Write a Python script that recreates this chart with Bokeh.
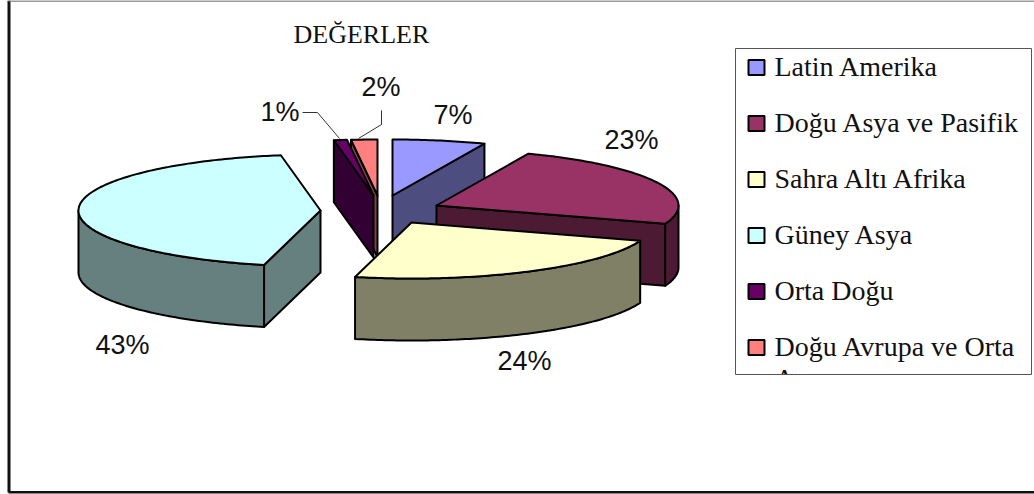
import numpy as np
from bokeh.embed import file_html
from bokeh.models import ColumnDataSource, Range1d
from bokeh.plotting import figure
from bokeh.resources import INLINE
from bokeh.core.properties import value

title = "DEĞERLER"
categories = ["Latin Amerika", "Doğu Asya ve Pasifik", "Sahra Altı Afrika",
              "Güney Asya", "Orta Doğu", "Doğu Avrupa ve Orta Asya"]
shares = [7, 23, 24, 43, 1, 2]
share_labels = ["7%", "23%", "24%", "43%", "1%", "2%"]

top_colors = ["#9999FF", "#993366", "#FFFFCC", "#CCFFFF", "#660066", "#FF8080"]
side_colors = ["#4D4D80", "#4D1A33", "#808066", "#668080", "#330033", "#804040"]

# layout, in page pixels
apex_x = [392, 436, 411, 320, 373, 377]
apex_y = [195, 205, 222, 210, 195, 195]
RX, RY, DEPTH = 242, 56, 62
WARP_BACK, WARP_FRONT = 0.065, 0.033
draw_order = [0, 5, 4, 1, 3, 2]
label_x = [433, 604, 497, 95, 260, 361]
label_y = [114, 139, 360, 344, 111, 86]

p = figure(width=1034, height=494, x_range=Range1d(0, 1034), y_range=Range1d(494, 0),
           output_backend="svg", toolbar_location=None, min_border=0)
p.axis.visible = False
p.grid.visible = False
p.outline_line_color = None
p.background_fill_color = "white"
p.border_fill_color = "white"

# outer chart frame
p.line([8.5, 8.5], [0, 492], line_color="#111111", line_width=3)
p.line([8, 1034], [491.7, 491.7], line_color="#111111", line_width=2.5)
p.line([8, 1034], [0.5, 0.5], line_color="#777777", line_width=1.5)

edges = np.cumsum([0] + shares) / sum(shares) * 2 * np.pi


def outline(cx, cy, a, b, drop=0.0):
    t = np.linspace(a, b, max(int((b - a) * 60), 2))
    t = t - np.where(np.cos(t) > 0, WARP_BACK, WARP_FRONT) * np.sin(2 * t)
    return cx + RX * np.sin(t), cy - RY * np.cos(t) + drop


def draw(xs, ys, color):
    p.patch(list(xs), list(ys), fill_color=color, line_color="black",
            line_width=2, line_join="round")


for i in draw_order:
    a, b = edges[i], edges[i + 1]
    cx, cy = apex_x[i], apex_y[i]
    side = side_colors[i]
    # flat cut faces turned towards the viewer
    if np.sin(a) < -1e-9:
        ex, ey = outline(cx, cy, a, a)
        draw([cx, ex[0], ex[0], cx], [cy, ey[0], ey[0] + DEPTH, cy + DEPTH], side)
    if np.sin(b) > 1e-9:
        ex, ey = outline(cx, cy, b, b)
        draw([cx, ex[0], ex[0], cx], [cy, ey[0], ey[0] + DEPTH, cy + DEPTH], side)
    # outer rim where it faces the viewer
    lo, hi = max(a, np.pi / 2), min(b, 3 * np.pi / 2)
    if hi > lo:
        ux, uy = outline(cx, cy, lo, hi)
        dx, dy = outline(cx, cy, lo, hi, DEPTH)
        draw(np.r_[ux, dx[::-1]], np.r_[uy, dy[::-1]], side)
    # top face
    ax, ay = outline(cx, cy, a, b)
    draw(np.r_[cx, ax], np.r_[cy, ay], top_colors[i])

# value labels
p.text(x="x", y="y", text="t", source=ColumnDataSource(dict(x=label_x, y=label_y, t=share_labels)),
       text_font=value("Liberation Sans"), text_font_size="27px", text_color="#111111",
       text_align="left", text_baseline="alphabetic")

# leader lines of the two small slices
p.line([302, 317, 339], [112, 112, 138], line_color="#333333", line_width=1)
p.line([381, 381, 358], [110, 124, 138], line_color="#333333", line_width=1)

# title
p.text(x=[293], y=[34], text=[title], text_font=value("Liberation Serif"),
       text_font_size="26px", text_color="#111111", text_baseline="alphabetic")

# legend
LEG_L, LEG_T, LEG_R, LEG_B = 735, 48, 1031, 374
row_y = [67 + 56 * k for k in range(len(categories))]
wrapped = categories[:5] + ["Doğu Avrupa ve Orta"]
p.text(x=[774] * 6, y=[y - 1 for y in row_y], text=wrapped,
       text_font=value("Liberation Serif"), text_font_size="28px", text_color="#111111",
       text_baseline="alphabetic")
p.text(x=[774], y=[row_y[5] + 31], text=["Asya"],
       text_font=value("Liberation Serif"), text_font_size="28px", text_color="#111111",
       text_baseline="alphabetic")
# the legend box cuts its last wrapped line off
p.quad(left=[LEG_L], right=[LEG_R], top=[LEG_B], bottom=[LEG_B + 45], fill_color="white", line_color=None)
p.quad(left=[LEG_L], right=[LEG_R], top=[LEG_T], bottom=[LEG_B], fill_color=None,
       line_color="#555555", line_width=1)
p.quad(left=[748] * 6, right=[764] * 6, top=[y - 7.5 for y in row_y], bottom=[y + 7.5 for y in row_y],
       fill_color=top_colors, line_color="black", line_width=2)

open("out.html", "w").write(file_html(p, INLINE))
